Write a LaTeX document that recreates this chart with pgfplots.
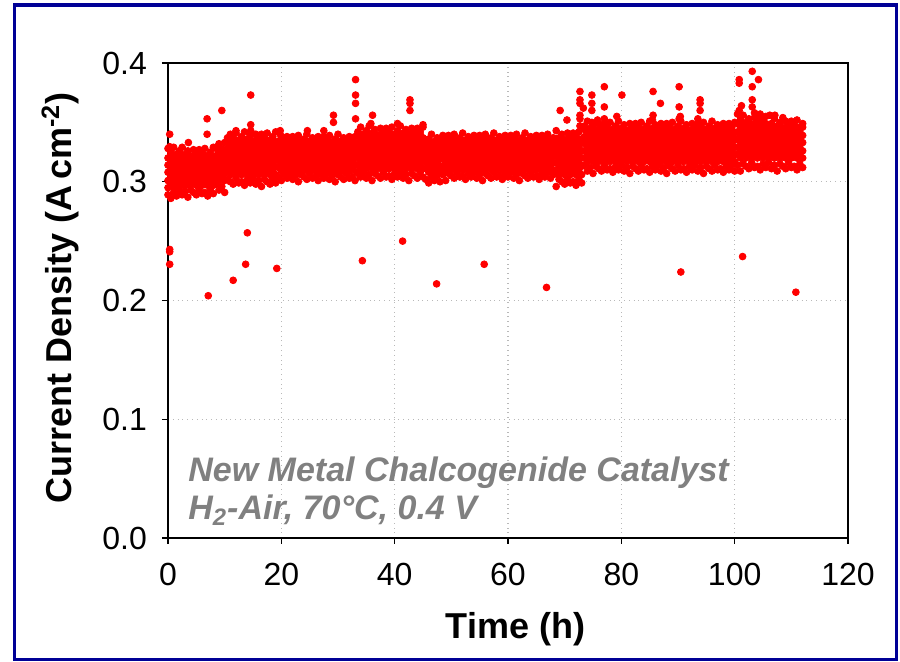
\documentclass[border=0pt]{standalone}
\usepackage{pgfplots}
\pgfplotsset{compat=1.18}
\usepackage{pgfplotstable}
\usepackage{fontspec}
\setmainfont{Liberation Sans}
\setsansfont{Liberation Sans}
\definecolor{frameblue}{RGB}{0,0,150}
\definecolor{anngray}{RGB}{128,128,128}
\definecolor{ptred}{RGB}{255,0,0}
\pgfplotsset{dot/.style={only marks, mark=*, color=ptred, mark size=1.7pt, mark options={solid, draw=none, fill=ptred}}}

\pgfplotstableread{
x lo m1 m2 m3 m4 m5 hi
0 .289 .295 .301 .308 .314 .320 .328
0.5 .286 .298 .304 .311 .317 .323 .325
1 .291 .295 .301 .308 .314 .320 .329
1.5 .288 .298 .304 .311 .317 .323 .323
2 .292 .295 .301 .308 .314 .320 .326
2.5 .289 .300 .305 .311 .317 .322 .329
3 .292 .297 .302 .308 .314 .319 .323
3.5 .287 .300 .305 .311 .317 .322 .326
4 .293 .297 .302 .308 .314 .319 .321
4.5 .291 .300 .305 .311 .317 .322 .327
5 .289 .297 .302 .308 .314 .319 .324
5.5 .294 .300 .305 .311 .317 .322 .327
6 .290 .297 .302 .308 .314 .319 .324
6.5 .291 .300 .305 .311 .317 .322 .328
7 .288 .297 .302 .308 .314 .319 .322
7.5 .293 .300 .305 .311 .317 .322 .325
8 .290 .297 .302 .308 .314 .319 .329
8.5 .298 .304 .310 .316 .322 .328 .329
9 .293 .301 .307 .313 .319 .325 .332
9.5 .296 .304 .310 .316 .322 .328 .327
10 .291 .301 .307 .313 .319 .325 .333
10.5 .302 .309 .316 .322 .328 .335 .337
11 .300 .306 .313 .319 .325 .332 .340
11.5 .298 .309 .316 .322 .328 .335 .337
12 .303 .306 .313 .319 .325 .332 .341
12.5 .299 .309 .316 .322 .328 .335 .335
13 .300 .306 .313 .319 .325 .332 .338
13.5 .297 .309 .316 .322 .328 .335 .342
14 .302 .306 .313 .319 .325 .332 .336
14.5 .299 .309 .316 .322 .328 .335 .339
15 .303 .306 .313 .319 .325 .332 .334
15.5 .298 .309 .316 .322 .328 .335 .340
16 .301 .306 .313 .319 .325 .332 .337
16.5 .296 .309 .316 .322 .328 .335 .340
17 .302 .306 .313 .319 .325 .332 .337
17.5 .300 .309 .316 .322 .328 .335 .341
18 .298 .306 .313 .319 .325 .332 .335
18.5 .303 .309 .316 .322 .328 .335 .338
19 .299 .306 .313 .319 .325 .332 .342
19.5 .304 .312 .318 .323 .328 .334 .334
20 .301 .309 .315 .320 .325 .331 .337
20.5 .306 .312 .318 .323 .328 .334 .332
21 .303 .309 .315 .320 .325 .331 .338
21.5 .307 .312 .318 .323 .328 .334 .335
22 .302 .309 .315 .320 .325 .331 .338
22.5 .305 .312 .318 .323 .328 .334 .335
23 .300 .309 .315 .320 .325 .331 .339
23.5 .306 .312 .318 .323 .328 .334 .333
24 .304 .309 .315 .320 .325 .331 .336
24.5 .302 .312 .318 .323 .328 .334 .340
25 .307 .309 .315 .320 .325 .331 .334
25.5 .303 .312 .318 .323 .328 .334 .337
26 .304 .309 .315 .320 .325 .331 .332
26.5 .301 .312 .318 .323 .328 .334 .338
27 .306 .309 .315 .320 .325 .331 .335
27.5 .303 .312 .318 .323 .328 .334 .338
28 .307 .309 .315 .320 .325 .331 .335
28.5 .302 .312 .318 .323 .328 .334 .339
29 .305 .309 .315 .320 .325 .331 .333
29.5 .300 .312 .318 .323 .328 .334 .336
30 .306 .309 .315 .320 .325 .331 .340
30.5 .304 .312 .318 .323 .328 .334 .334
31 .302 .309 .315 .320 .325 .331 .337
31.5 .307 .312 .318 .323 .328 .334 .332
32 .303 .309 .315 .320 .325 .331 .338
32.5 .304 .312 .318 .323 .328 .334 .335
33 .301 .309 .315 .320 .325 .331 .338
33.5 .307 .314 .321 .327 .333 .340 .342
34 .304 .311 .318 .324 .330 .337 .346
34.5 .308 .314 .321 .327 .333 .340 .340
35 .303 .311 .318 .324 .330 .337 .343
35.5 .306 .314 .321 .327 .333 .340 .347
36 .301 .311 .318 .324 .330 .337 .341
36.5 .307 .314 .321 .327 .333 .340 .344
37 .305 .311 .318 .324 .330 .337 .339
37.5 .303 .314 .321 .327 .333 .340 .345
38 .308 .311 .318 .324 .330 .337 .342
38.5 .304 .314 .321 .327 .333 .340 .345
39 .305 .311 .318 .324 .330 .337 .342
39.5 .302 .314 .321 .327 .333 .340 .346
40 .307 .311 .318 .324 .330 .337 .340
40.5 .304 .314 .321 .327 .333 .340 .343
41 .308 .311 .318 .324 .330 .337 .347
41.5 .303 .314 .321 .327 .333 .340 .341
42 .306 .311 .318 .324 .330 .337 .344
42.5 .301 .314 .321 .327 .333 .340 .339
43 .307 .311 .318 .324 .330 .337 .345
43.5 .305 .314 .321 .327 .333 .340 .342
44 .303 .311 .318 .324 .330 .337 .345
44.5 .308 .314 .321 .327 .333 .340 .342
45 .304 .311 .318 .324 .330 .337 .346
45.5 .302 .311 .316 .322 .328 .333 .333
46 .299 .308 .313 .319 .325 .330 .336
46.5 .304 .311 .316 .322 .328 .333 .340
47 .301 .308 .313 .319 .325 .330 .334
47.5 .305 .311 .316 .322 .328 .333 .337
48 .300 .308 .313 .319 .325 .330 .332
48.5 .306 .313 .319 .324 .329 .335 .339
49 .301 .310 .316 .321 .326 .332 .336
49.5 .307 .313 .319 .324 .329 .335 .339
50 .305 .310 .316 .321 .326 .332 .336
50.5 .303 .313 .319 .324 .329 .335 .340
51 .308 .310 .316 .321 .326 .332 .334
51.5 .304 .313 .319 .324 .329 .335 .337
52 .305 .310 .316 .321 .326 .332 .341
52.5 .302 .313 .319 .324 .329 .335 .335
53 .307 .310 .316 .321 .326 .332 .338
53.5 .304 .313 .319 .324 .329 .335 .333
54 .308 .310 .316 .321 .326 .332 .339
54.5 .303 .313 .319 .324 .329 .335 .336
55 .306 .310 .316 .321 .326 .332 .339
55.5 .301 .313 .319 .324 .329 .335 .336
56 .307 .310 .316 .321 .326 .332 .340
56.5 .305 .313 .319 .324 .329 .335 .334
57 .303 .310 .316 .321 .326 .332 .337
57.5 .308 .313 .319 .324 .329 .335 .341
58 .304 .310 .316 .321 .326 .332 .335
58.5 .305 .313 .319 .324 .329 .335 .338
59 .302 .310 .316 .321 .326 .332 .333
59.5 .307 .313 .319 .324 .329 .335 .339
60 .304 .310 .316 .321 .326 .332 .336
60.5 .308 .313 .319 .324 .329 .335 .339
61 .303 .310 .316 .321 .326 .332 .336
61.5 .306 .313 .319 .324 .329 .335 .340
62 .301 .310 .316 .321 .326 .332 .334
62.5 .307 .313 .319 .324 .329 .335 .337
63 .305 .310 .316 .321 .326 .332 .341
63.5 .303 .313 .319 .324 .329 .335 .335
64 .308 .310 .316 .321 .326 .332 .338
64.5 .304 .313 .319 .324 .329 .335 .333
65 .305 .310 .316 .321 .326 .332 .339
65.5 .302 .313 .319 .324 .329 .335 .336
66 .307 .310 .316 .321 .326 .332 .339
66.5 .304 .313 .319 .324 .329 .335 .336
67 .308 .310 .316 .321 .326 .332 .340
67.5 .303 .313 .319 .324 .329 .335 .334
68 .306 .310 .316 .321 .326 .332 .337
68.5 .296 .309 .316 .323 .329 .336 .343
69 .302 .306 .313 .320 .326 .333 .337
69.5 .300 .309 .316 .323 .329 .336 .340
70 .298 .306 .313 .320 .326 .333 .335
70.5 .303 .309 .316 .323 .329 .336 .341
71 .299 .306 .313 .320 .326 .333 .338
71.5 .300 .309 .316 .323 .329 .336 .341
72 .297 .306 .313 .320 .326 .333 .338
72.5 .302 .309 .316 .323 .329 .336 .342
73 .299 .306 .313 .320 .326 .333 .336
73.5 .314 .320 .326 .332 .338 .344 .347
74 .309 .317 .323 .329 .335 .341 .351
74.5 .312 .320 .326 .332 .338 .344 .345
75 .307 .317 .323 .329 .335 .341 .348
75.5 .313 .320 .326 .332 .338 .344 .343
76 .311 .317 .323 .329 .335 .341 .349
76.5 .309 .320 .326 .332 .338 .344 .346
77 .314 .317 .323 .329 .335 .341 .349
77.5 .310 .320 .326 .332 .338 .344 .346
78 .311 .317 .323 .329 .335 .341 .350
78.5 .308 .320 .326 .332 .338 .344 .344
79 .313 .317 .323 .329 .335 .341 .347
79.5 .310 .320 .326 .332 .338 .344 .351
80 .314 .317 .323 .329 .335 .341 .345
80.5 .309 .320 .326 .332 .338 .344 .348
81 .312 .317 .323 .329 .335 .341 .343
81.5 .307 .320 .326 .332 .338 .344 .349
82 .313 .317 .323 .329 .335 .341 .346
82.5 .311 .320 .326 .332 .338 .344 .349
83 .309 .317 .323 .329 .335 .341 .346
83.5 .314 .320 .326 .332 .338 .344 .350
84 .310 .317 .323 .329 .335 .341 .344
84.5 .311 .320 .326 .332 .338 .344 .347
85 .308 .317 .323 .329 .335 .341 .351
85.5 .313 .320 .326 .332 .338 .344 .345
86 .310 .317 .323 .329 .335 .341 .348
86.5 .314 .320 .326 .332 .338 .344 .343
87 .309 .317 .323 .329 .335 .341 .349
87.5 .312 .320 .326 .332 .338 .344 .346
88 .307 .317 .323 .329 .335 .341 .349
88.5 .313 .320 .326 .332 .338 .344 .346
89 .311 .317 .323 .329 .335 .341 .350
89.5 .309 .320 .326 .332 .338 .344 .344
90 .314 .317 .323 .329 .335 .341 .347
90.5 .310 .320 .326 .332 .338 .344 .351
91 .311 .317 .323 .329 .335 .341 .345
91.5 .308 .320 .326 .332 .338 .344 .348
92 .313 .317 .323 .329 .335 .341 .343
92.5 .310 .320 .326 .332 .338 .344 .349
93 .314 .317 .323 .329 .335 .341 .346
93.5 .309 .320 .326 .332 .338 .344 .349
94 .312 .317 .323 .329 .335 .341 .346
94.5 .307 .320 .326 .332 .338 .344 .350
95 .313 .317 .323 .329 .335 .341 .344
95.5 .311 .320 .326 .332 .338 .344 .347
96 .309 .317 .323 .329 .335 .341 .351
96.5 .314 .320 .326 .332 .338 .344 .345
97 .310 .317 .323 .329 .335 .341 .348
97.5 .311 .320 .326 .332 .338 .344 .343
98 .308 .317 .323 .329 .335 .341 .349
98.5 .313 .320 .326 .332 .338 .344 .346
99 .310 .317 .323 .329 .335 .341 .349
99.5 .314 .320 .326 .332 .338 .344 .346
100 .309 .317 .323 .329 .335 .341 .350
100.5 .314 .323 .329 .336 .342 .349 .349
101 .309 .320 .326 .333 .339 .346 .352
101.5 .315 .323 .329 .336 .342 .349 .356
102 .313 .320 .326 .333 .339 .346 .350
102.5 .311 .323 .329 .336 .342 .349 .353
103 .316 .320 .326 .333 .339 .346 .348
103.5 .312 .323 .329 .336 .342 .349 .354
104 .313 .320 .326 .333 .339 .346 .351
104.5 .310 .323 .329 .336 .342 .349 .354
105 .315 .320 .326 .333 .339 .346 .351
105.5 .312 .323 .329 .336 .342 .349 .355
106 .316 .320 .326 .333 .339 .346 .346
106.5 .311 .323 .329 .336 .342 .345 .349
107 .314 .320 .326 .333 .339 .346 .353
107.5 .309 .323 .329 .336 .342 .345 .347
108 .315 .320 .326 .333 .339 .346 .350
108.5 .313 .323 .329 .336 .342 .345 .345
109 .311 .320 .326 .333 .339 .346 .351
109.5 .316 .323 .329 .336 .342 .345 .348
110 .312 .320 .326 .333 .339 .346 .351
110.5 .313 .323 .329 .336 .342 .345 .348
111 .310 .320 .326 .333 .339 .346 .352
111.5 .315 .323 .329 .336 .342 .345 .346
112 .312 .320 .326 .333 .339 .346 .349
}\band

\begin{document}
\begin{tikzpicture}
\useasboundingbox (-84pt,-62pt) rectangle (366pt,269pt);
\begin{axis}[
  at={(0,0)}, anchor=south west,
  scale only axis, width=340pt, height=237.5pt,
  xmin=0, xmax=120, ymin=0, ymax=0.4,
  xtick={0,20,40,60,80,100,120},
  ytick={0,0.1,0.2,0.3,0.4},
  tick pos=left, tick align=outside, major tick length=3pt,
  grid=major,
  grid style={dotted, gray!55, line width=0.6pt},
  axis line style={black, line width=0.7pt},
  tick style={black, line width=0.7pt},
  /pgf/number format/assume math mode=true,
  ticklabel style={font=\fontsize{16}{19}\selectfont},
  yticklabel style={/pgf/number format/fixed, /pgf/number format/fixed zerofill, /pgf/number format/precision=1, xshift=-4pt},
  xticklabel style={yshift=-6pt},
  xlabel={Time (h)},
  ylabel={Current Density (A\,cm\textsuperscript{-2})},
  label style={font=\bfseries\fontsize{18}{21}\selectfont},
  xlabel style={at={(axis description cs:0.511,-0.2126)}, anchor=base},
  ylabel style={at={(axis description cs:-0.1416,0.505)}, anchor=base},
  clip=false,
]
\addplot[dot] table[x=x, y=lo] {\band};
\addplot[dot] table[x=x, y=m1] {\band};
\addplot[dot] table[x=x, y=m2] {\band};
\addplot[dot] table[x=x, y=m3] {\band};
\addplot[dot] table[x=x, y=m4] {\band};
\addplot[dot] table[x=x, y=m5] {\band};
\addplot[dot] table[x=x, y=hi] {\band};
% points just above the band
\addplot[dot] coordinates {
(12.0,0.343) (14.6,0.348) (24.6,0.343) (27.5,0.343) (35.8,0.349) (40.5,0.349)
(45.0,0.348) (70.4,0.352) (72.7,0.347) (73.3,0.362) (75.8,0.352) (79.2,0.355)
(85.5,0.352) (90.4,0.355) (93.5,0.353) (100.5,0.357) (101.2,0.364) (103.5,0.358)
(104.5,0.357) (106.2,0.356) (108.5,0.354)
};
% high outliers
\addplot[dot] coordinates {
(0.3,0.340) (0.3,0.3295) (3.6,0.333) (6.9,0.353) (6.9,0.340) (9.5,0.360)
(14.6,0.373) (14.6,0.343) (14.6,0.340) (19.8,0.343) (19.8,0.340)
(29.2,0.356) (29.2,0.350) (33.1,0.386) (33.1,0.373) (33.1,0.366) (33.1,0.353)
(36.1,0.356) (42.7,0.369) (42.7,0.366) (42.7,0.360) (69.2,0.360)
(72.7,0.376) (72.7,0.369) (72.7,0.366) (72.7,0.356) (72.7,0.353)
(74.8,0.373) (74.8,0.366) (74.8,0.360) (74.8,0.350)
(77.0,0.380) (77.0,0.363) (77.0,0.353) (80.1,0.373) (85.6,0.376) (85.6,0.356)
(86.9,0.366) (90.2,0.380) (90.2,0.363) (90.2,0.353) (93.9,0.369) (93.9,0.366)
(93.9,0.360) (100.8,0.386) (100.8,0.383) (100.8,0.360) (103.1,0.393)
(103.1,0.380) (103.1,0.369) (103.1,0.363) (104.2,0.386) (107.1,0.356)
};
% low outliers
\addplot[dot] coordinates {
(0.3,0.243) (0.3,0.241) (0.3,0.2305) (7.1,0.204) (11.5,0.217) (13.7,0.2305)
(14.0,0.257) (19.2,0.227) (34.3,0.2335) (41.4,0.250) (47.4,0.214)
(55.8,0.2305) (66.8,0.211) (90.5,0.224) (101.4,0.237) (110.8,0.207)
};
\end{axis}
\node[anchor=base west, inner sep=0pt, text=anngray, font=\bfseries\itshape\fontsize{17}{20}\selectfont] at (10pt,28.2pt) {New Metal Chalcogenide Catalyst};
\node[anchor=base west, inner sep=0pt, text=anngray, font=\bfseries\itshape\fontsize{17}{20}\selectfont] at (10pt,9pt) {H\textsubscript{2}-Air, 70°C, 0.4 V};
\draw[frameblue, line width=1.6pt] (-76.75pt,-60.75pt) rectangle (364.25pt,266.5pt);
\end{tikzpicture}
\end{document}
